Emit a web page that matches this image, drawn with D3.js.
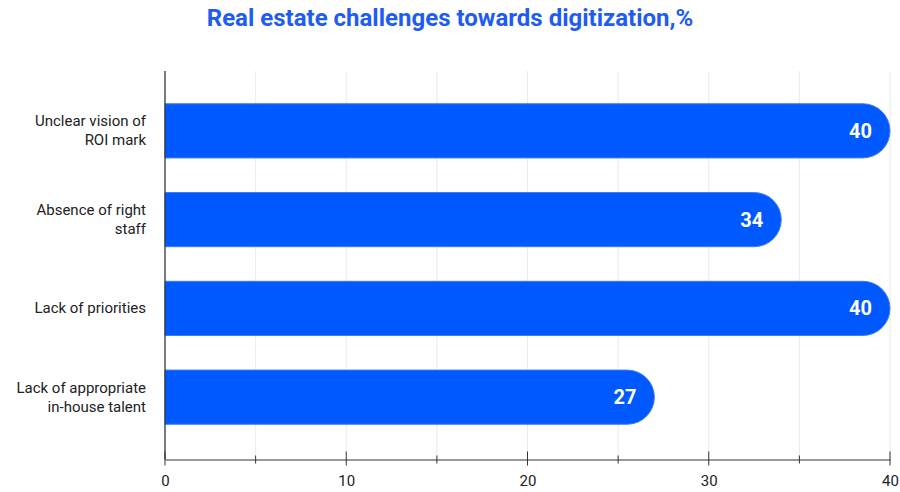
<!DOCTYPE html>
<html><head><meta charset="utf-8">
<script src="https://cdn.jsdelivr.net/npm/d3@7"></script>
<style>body{margin:0;background:#fff}svg{display:block;font-family:Roboto,sans-serif}</style>
</head><body><svg id="c" width="900" height="492"></svg>
<script>
const categories = [["Unclear vision of", "ROI mark"], ["Absence of right", "staff"], ["Lack of priorities"], ["Lack of appropriate", "in-house talent"]];
const values = [40, 34, 40, 27];
const majorTicks = [0, 10, 20, 30, 40];
const minorTicks = [5, 15, 25, 35];

const svg = d3.select("#c");
const x = d3.scaleLinear().domain([0, 40]).range([165, 890]);
const y = d3.scaleBand().domain(d3.range(values.length)).range([86, 442]).paddingInner(0.39).paddingOuter(0.2);
const axisY = 459.5;

svg.append("text").attr("x", 450).attr("y", 26).attr("text-anchor", "middle")
  .attr("fill", "#1f5cf2").attr("font-size", 24).attr("font-weight", 700)
  .text("Real estate challenges towards digitization,%");

// grid every 5
svg.append("g").selectAll("line").data(d3.range(5, 41, 5)).join("line")
  .attr("x1", d => x(d)).attr("x2", d => x(d)).attr("y1", 71).attr("y2", axisY)
  .attr("stroke", "#e6ecf2");

// bars with rounded right end
const r = y.bandwidth() / 2;
svg.append("g").selectAll("path").data(values).join("path")
  .attr("d", (v, i) => {
    const x0 = x(0), x1 = x(v), t = y(i), b = t + y.bandwidth();
    return `M${x0},${t}H${x1 - r}A${r},${r} 0 0 1 ${x1 - r},${b}H${x0}Z`;
  })
  .attr("fill", "#0058ff").attr("stroke", "#3d7cf0").attr("stroke-width", 1);

svg.append("g").selectAll("text").data(values).join("text")
  .attr("x", v => x(v) - 18).attr("y", (v, i) => y(i) + y.bandwidth() / 2 + 7)
  .attr("text-anchor", "end").attr("fill", "#fff").attr("font-size", 20).attr("font-weight", 700)
  .text(v => v);

// category labels
svg.append("g").selectAll("text").data(categories).join("text")
  .attr("text-anchor", "end").attr("font-size", 15).attr("fill", "#222")
  .each(function (lines, i) {
    const cy = y(i) + y.bandwidth() / 2;
    const t = d3.select(this);
    lines.forEach((l, j) => t.append("tspan").attr("x", 146)
      .attr("y", cy + 5 + (j - (lines.length - 1) / 2) * 19).text(l));
  });

// axes
svg.append("line").attr("x1", 165).attr("x2", 165).attr("y1", 71).attr("y2", axisY).attr("stroke", "#333").attr("stroke-width", 1.3);
const ax = svg.append("g").attr("transform", `translate(0,${axisY})`)
  .call(d3.axisBottom(x).tickValues(majorTicks).tickSize(0).tickPadding(16).tickFormat(d3.format("d")));
ax.select(".domain").attr("stroke", "#333");
ax.selectAll("text").attr("font-size", 15).attr("fill", "#222").attr("font-family", "Roboto,sans-serif");
svg.append("g").selectAll("line").data(majorTicks).join("line")
  .attr("x1", d => x(d)).attr("x2", d => x(d)).attr("y1", axisY - 8).attr("y2", axisY + 6).attr("stroke", "#333");
svg.append("g").selectAll("line").data(minorTicks).join("line")
  .attr("x1", d => x(d)).attr("x2", d => x(d)).attr("y1", axisY - 4).attr("y2", axisY + 4).attr("stroke", "#333");
</script></body></html>
